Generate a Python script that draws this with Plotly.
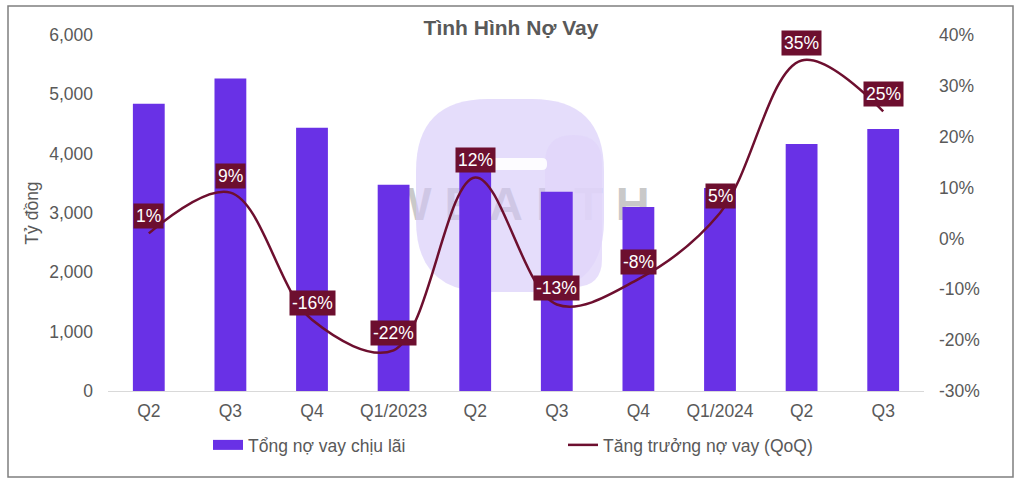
import base64
import plotly.graph_objects as go

# ---------------- data ----------------
categories = ["Q2", "Q3", "Q4", "Q1/2023", "Q2", "Q3", "Q4", "Q1/2024", "Q2", "Q3"]
debt = [4840, 5265, 4435, 3475, 3830, 3360, 3100, 3420, 4165, 4415]          # Tỷ đồng
growth = [0.01, 0.09, -0.16, -0.22, 0.12, -0.13, -0.08, 0.05, 0.35, 0.25]     # QoQ
growth_labels = ["1%", "9%", "-16%", "-22%", "12%", "-13%", "-8%", "5%", "35%", "25%"]
left_ticks = [0, 1000, 2000, 3000, 4000, 5000, 6000]
left_tick_text = ["0", "1,000", "2,000", "3,000", "4,000", "5,000", "6,000"]
right_ticks = [-0.3, -0.2, -0.1, 0, 0.1, 0.2, 0.3, 0.4]
right_tick_text = ["-30%", "-20%", "-10%", "0%", "10%", "20%", "30%", "40%"]

BAR = "#6931e6"
LINE = "#6d0f2f"
GREY = "#595959"
FONT = "Liberation Sans, Arial, sans-serif"
FS = 17.5

W, H = 1022, 484
ML, MR, MT, MB = 108, 98, 35, 93
PW, PH = W - ML - MR, H - MT - MB

def px(x):  # pixel -> paper x
    return (x - ML) / PW

def py(y):  # pixel -> paper y
    return (H - MB - y) / PH

xs = list(range(len(categories)))

fig = go.Figure()
fig.add_trace(go.Bar(
    x=xs, y=debt, name="Tổng nợ vay chịu lãi", showlegend=False,
    marker=dict(color=BAR, line=dict(width=0)), yaxis="y",
))
# legend-only entry giving the wide rectangular bar key
fig.add_trace(go.Scatter(
    x=[None], y=[None], name="Tổng nợ vay chịu lãi", mode="lines",
    line=dict(color=BAR, width=12), yaxis="y", hoverinfo="skip",
))
fig.add_trace(go.Scatter(
    x=xs, y=growth, name="Tăng trưởng nợ vay (QoQ)", yaxis="y2",
    mode="lines", line=dict(color=LINE, width=2.5, shape="spline", smoothing=1.0),
))

annotations = []
for xi, g, lab in zip(xs, growth, growth_labels):
    annotations.append(dict(
        x=xi, y=g, xref="x", yref="y2", text=lab, showarrow=False,
        yshift=17, bgcolor=LINE, borderpad=2,
        font=dict(color="white", size=FS, family=FONT),
    ))

def rrect(x0, y0, x1, y1, r):
    X0, X1 = px(x0), px(x1)
    Y0, Y1 = py(y0), py(y1)
    rx, ry = r / PW, r / PH
    return (f"M {X0+rx},{Y0} L {X1-rx},{Y0} Q {X1},{Y0} {X1},{Y0-ry} "
            f"L {X1},{Y1+ry} Q {X1},{Y1} {X1-rx},{Y1} L {X0+rx},{Y1} "
            f"Q {X0},{Y1} {X0},{Y1+ry} L {X0},{Y0-ry} Q {X0},{Y0} {X0+rx},{Y0} Z")

shapes = [
    # watermark logo
    dict(type="path", xref="paper", yref="paper", layer="below",
         path=rrect(416, 99, 604, 292, 72), fillcolor="rgba(212,198,248,0.6)", line=dict(width=0)),
    dict(type="path", xref="paper", yref="paper", layer="below",
         path=rrect(545, 135, 602, 287, 28), fillcolor="rgba(225,214,250,0.8)", line=dict(width=0)),
    dict(type="path", xref="paper", yref="paper", layer="below",
         path=rrect(468, 158, 547, 170, 5), fillcolor="rgba(255,255,255,0.9)", line=dict(width=0)),
    # chart border
    dict(type="rect", xref="paper", yref="paper", layer="below",
         x0=px(8), x1=px(1013), y0=py(477), y1=py(6),
         line=dict(color="#7f7f7f", width=1.5), fillcolor="rgba(0,0,0,0)"),
]

# watermark word as an SVG image kept behind the bars
wm_svg = (
    '<svg xmlns="http://www.w3.org/2000/svg" width="280" height="50" viewBox="0 0 280 50">'
    '<text x="140" y="42" text-anchor="middle" font-family="Liberation Sans, Arial, sans-serif" '
    'font-size="47" font-weight="bold" letter-spacing="13" fill="#a5a5a5" fill-opacity="0.6">WEALTH</text>'
    '</svg>'
)
wm_src = "data:image/svg+xml;base64," + base64.b64encode(wm_svg.encode()).decode()

fig.update_layout(
    width=W, height=H,
    margin=dict(l=ML, r=MR, t=MT, b=MB, autoexpand=False),
    paper_bgcolor="white", plot_bgcolor="rgba(0,0,0,0)",
    font=dict(family=FONT, color=GREY, size=FS),
    title=dict(text="<b>Tình Hình Nợ Vay</b>", x=0.5, xanchor="center",
               y=1 - 28 / H, yanchor="middle", font=dict(size=21, color=GREY)),
    bargap=0.61,
    xaxis=dict(tickmode="array", tickvals=xs, ticktext=categories,
               range=[-0.5, len(xs) - 0.5], showgrid=False, zeroline=False,
               showline=True, linecolor="#d9d9d9", linewidth=1, ticks="",
               ticklabelstandoff=4,
               tickfont=dict(size=FS, color=GREY)),
    yaxis=dict(range=[0, 6000], tickvals=left_ticks, ticktext=left_tick_text,
               showgrid=False, zeroline=False, showline=False, ticks="",
               ticklabelstandoff=14,
               title=dict(text="Tỷ đồng", font=dict(size=FS, color=GREY), standoff=6),
               tickfont=dict(size=FS, color=GREY)),
    yaxis2=dict(range=[-0.3, 0.4], tickvals=right_ticks, ticktext=right_tick_text,
                overlaying="y", side="right", showgrid=False, zeroline=False,
                showline=False, ticks="", ticklabelstandoff=14,
                tickfont=dict(size=FS, color=GREY)),
    legend=dict(orientation="h", x=px(208), xanchor="left", y=py(445), yanchor="middle",
                entrywidth=310, entrywidthmode="pixels",
                font=dict(size=FS, color=GREY), bgcolor="rgba(0,0,0,0)",
                itemwidth=30),
    images=[dict(source=wm_src, xref="paper", yref="paper", layer="below",
                 x=px(385), y=py(178), sizex=280 / PW, sizey=50 / PH,
                 xanchor="left", yanchor="top", sizing="stretch")],
    annotations=annotations,
    shapes=shapes,
    showlegend=True,
)

fig.write_html("out.html")
